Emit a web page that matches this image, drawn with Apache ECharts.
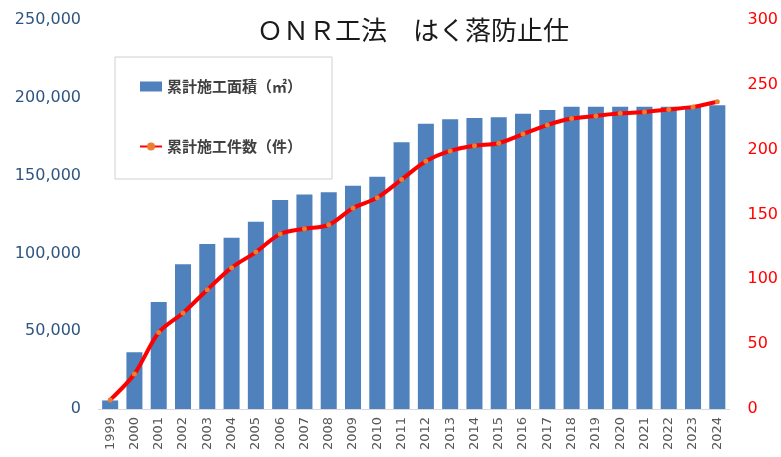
<!DOCTYPE html>
<html>
<head>
<meta charset="utf-8">
<script src="https://cdn.jsdelivr.net/npm/echarts@6/dist/echarts.min.js"></script>
<style>
  html, body { margin: 0; padding: 0; background: #fff; }
  #chart { width: 781px; height: 457px; }
</style>
</head>
<body>
<div id="chart"></div>
<script>
var years = ['1999','2000','2001','2002','2003','2004','2005','2006','2007','2008','2009','2010','2011',
  '2012','2013','2014','2015','2016','2017','2018','2019','2020','2021','2022','2023','2024'];
// 累計施工面積（㎡）
var areaValues = [5500, 36400, 68800, 93000, 106000, 110100, 120400, 134300, 137800, 139300, 143500, 149300, 171400,
  183400, 186200, 187000, 187500, 189800, 192200, 194300, 194300, 194300, 194300, 194300, 194500, 195200];
// 累計施工件数（件）
var countValues = [7, 27, 59, 74, 92, 109, 121, 135, 139, 142, 155, 163, 177,
  191, 199, 203, 205, 212, 219, 224, 226, 228, 229, 231, 233, 237];
var leftTicks = [0, 250000, 50000];
var rightTicks = [0, 300, 50];

var chart = echarts.init(document.getElementById('chart'));

var option = {
  backgroundColor: '#ffffff',
  animation: false,
  title: {
    text: 'ＯＮＲ工法　はく落防止仕',
    left: 408,
    top: 12,
    textAlign: 'center',
    textStyle: {
      fontFamily: 'Noto Sans CJK JP',
      fontSize: 26,
      fontWeight: 'normal',
      color: '#1a1a1a'
    }
  },
  legend: {
    orient: 'vertical',
    left: 115,
    top: 57,
    padding: [22, 30, 25, 24],
    itemGap: 45,
    itemWidth: 22,
    itemHeight: 10,
    borderColor: '#d0d0d0',
    borderWidth: 1,
    textStyle: {
      fontFamily: 'Noto Sans CJK JP',
      fontSize: 15,
      fontWeight: 'bold',
      color: '#404040'
    },
    data: [
      { name: '累計施工面積（㎡）', icon: 'rect' },
      { name: '累計施工件数（件）' }
    ]
  },
  grid: {
    left: 98,
    right: 51,
    top: 20,
    bottom: 48
  },
  xAxis: {
    type: 'category',
    data: years,
    axisLine: { lineStyle: { color: '#d9d9d9', width: 1 } },
    axisTick: { show: false },
    axisLabel: {
      rotate: 90,
      interval: 0,
      margin: 8,
      fontFamily: 'DejaVu Sans',
      fontSize: 13,
      color: '#595959'
    }
  },
  yAxis: [
    {
      type: 'value',
      min: leftTicks[0],
      max: leftTicks[1],
      interval: leftTicks[2],
      splitLine: { show: false },
      axisLine: { show: false },
      axisTick: { show: false },
      axisLabel: {
        margin: 17,
        fontFamily: 'DejaVu Sans',
        fontSize: 16,
        color: '#2f5580',
        formatter: function (v) { return v.toLocaleString('en-US'); }
      }
    },
    {
      type: 'value',
      min: rightTicks[0],
      max: rightTicks[1],
      interval: rightTicks[2],
      splitLine: { show: false },
      axisLine: { show: false },
      axisTick: { show: false },
      axisLabel: {
        margin: 18,
        fontFamily: 'DejaVu Sans',
        fontSize: 16,
        color: '#ff0000'
      }
    }
  ],
  series: [
    {
      name: '累計施工面積（㎡）',
      type: 'bar',
      yAxisIndex: 0,
      data: areaValues,
      barWidth: '66%',
      itemStyle: { color: '#4f81bd' }
    },
    {
      name: '累計施工件数（件）',
      type: 'line',
      yAxisIndex: 1,
      data: countValues,
      smooth: 0.3,
      symbol: 'circle',
      symbolSize: 5,
      lineStyle: { color: '#ff0000', width: 4 },
      itemStyle: { color: '#ed7d31', borderWidth: 0 },
      z: 5
    }
  ]
};

chart.setOption(option);
</script>
</body>
</html>
